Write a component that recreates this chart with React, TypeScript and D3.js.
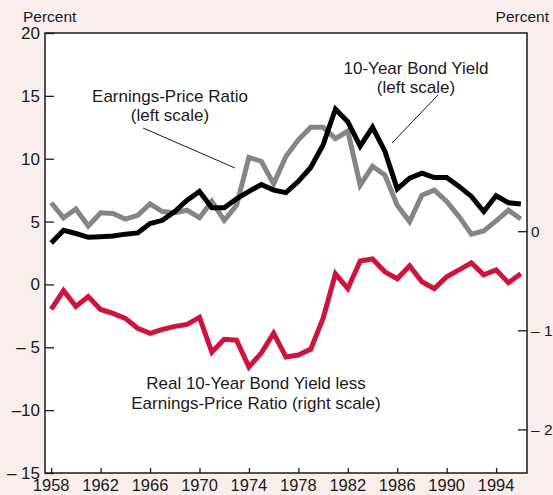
import React, { useEffect, useRef } from "react";
import * as d3 from "d3";

const years = d3.range(1958, 1997);

// left scale, percent
const earningsPrice = [
  6.5, 5.3, 6.0, 4.65, 5.7, 5.65, 5.2, 5.5, 6.4, 5.8, 5.7, 5.9, 5.3, 6.6, 5.1,
  6.3, 10.1, 9.8, 8.0, 10.2, 11.5, 12.5, 12.5, 11.6, 12.2, 7.9, 9.4, 8.7, 6.3,
  5.0, 7.1, 7.5, 6.6, 5.4, 4.0, 4.25, 5.05, 5.9, 5.2,
];
const bondYield = [
  3.3, 4.3, 4.05, 3.75, 3.8, 3.85, 4.0, 4.1, 4.85, 5.1, 5.8, 6.7, 7.4, 6.1, 6.1,
  6.8, 7.4, 7.95, 7.5, 7.3, 8.2, 9.3, 11.1, 13.95, 12.95, 11.0, 12.5, 10.6, 7.6,
  8.45, 8.85, 8.5, 8.5, 7.8, 7.0, 5.8, 7.05, 6.5, 6.4,
];
// right scale
const realSpread = [
  -0.79, -0.6, -0.76, -0.66, -0.79, -0.83, -0.88, -0.98, -1.03, -0.99, -0.96,
  -0.94, -0.87, -1.22, -1.09, -1.1, -1.37, -1.23, -1.03, -1.27, -1.25, -1.19,
  -0.88, -0.43, -0.58, -0.3, -0.28, -0.41, -0.48, -0.35, -0.51, -0.58, -0.46,
  -0.39, -0.32, -0.44, -0.39, -0.52, -0.43,
];

const xTicks = [1958, 1962, 1966, 1970, 1974, 1978, 1982, 1986, 1990, 1994];
const leftTicks = [20, 15, 10, 5, 0, -5, -10, -15];
const leftTickLabels = ["20", "15", "10", "5", "0", "\u2013 5", "\u201310", "\u2013 15"];
const rightTicks = [0, -1, -2];
const rightTickLabels = ["0", "\u2013 1", "\u2013 2"];

const W = 553;
const H = 495;
const m = { left: 45, right: 26, top: 33, bottom: 22 };
const FONT = "'Liberation Sans', Arial, sans-serif";
const INK = "#1a1a1a";

const App = () => {
  const svgRef = useRef<SVGSVGElement>(null);

  useEffect(() => {
    const svg = d3.select(svgRef.current);
    svg.selectAll("*").remove();

    const x = d3.scaleLinear().domain([1957.5, 1996.5]).range([m.left, W - m.right]);
    const yL = d3.scaleLinear().domain([-15, 20]).range([H - m.bottom, m.top]);
    const yR = d3.scaleLinear().domain([-2.44, 2]).range([H - m.bottom, m.top]);

    svg.append("rect").attr("width", W).attr("height", H).attr("fill", "#f9eeec");
    svg
      .append("rect")
      .attr("x", m.left)
      .attr("y", m.top)
      .attr("width", W - m.left - m.right)
      .attr("height", H - m.top - m.bottom)
      .attr("fill", "#fff");

    // left axis, ticks point inward
    const gl = svg.append("g").attr("transform", `translate(${m.left},0)`);
    gl.call(d3.axisRight(yL).tickValues(leftTicks).tickSize(9).tickFormat(() => ""));
    gl.select(".domain").remove();
    gl.selectAll(".tick line").attr("stroke", INK).attr("stroke-width", 1.3);
    svg
      .append("g")
      .selectAll("text")
      .data(leftTicks)
      .join("text")
      .attr("x", 40)
      .attr("y", (d) => yL(d) + 6)
      .attr("text-anchor", "end")
      .attr("font-family", FONT)
      .attr("font-size", 17)
      .attr("fill", INK)
      .text((d, i) => leftTickLabels[i]);

    // right axis
    const gr = svg.append("g").attr("transform", `translate(${W - m.right},0)`);
    gr.call(d3.axisLeft(yR).tickValues(rightTicks).tickSize(9).tickFormat(() => ""));
    gr.select(".domain").remove();
    gr.selectAll(".tick line").attr("stroke", INK).attr("stroke-width", 1.3);
    svg
      .append("g")
      .selectAll("text")
      .data(rightTicks)
      .join("text")
      .attr("x", 531)
      .attr("y", (d) => yR(d) + 6)
      .attr("font-family", FONT)
      .attr("font-size", 15.5)
      .attr("fill", INK)
      .text((d, i) => rightTickLabels[i]);

    // bottom axis
    const gb = svg.append("g").attr("transform", `translate(0,${H - m.bottom})`);
    gb.call(d3.axisTop(x).tickValues(xTicks).tickSize(5).tickFormat(() => ""));
    gb.select(".domain").remove();
    gb.selectAll(".tick line").attr("stroke", INK).attr("stroke-width", 1.3);
    svg
      .append("g")
      .selectAll("text")
      .data(xTicks)
      .join("text")
      .attr("x", (d) => x(d))
      .attr("y", H - 4)
      .attr("text-anchor", "middle")
      .attr("font-family", FONT)
      .attr("font-size", 16.5)
      .attr("fill", INK)
      .text((d) => String(d));

    // lines
    const lineL = d3
      .line<number>()
      .x((d, i) => x(years[i]))
      .y((d) => yL(d));
    const lineR = d3
      .line<number>()
      .x((d, i) => x(years[i]))
      .y((d) => yR(d));

    const series: [number[], any, string][] = [
      [earningsPrice, lineL, "#858585"],
      [bondYield, lineL, "#000"],
      [realSpread, lineR, "#d0123f"],
    ];
    series.forEach(([data, gen, color]) => {
      svg
        .append("path")
        .datum(data)
        .attr("d", gen)
        .attr("fill", "none")
        .attr("stroke", color)
        .attr("stroke-width", 5)
        .attr("stroke-linejoin", "miter");
    });

    // frame
    svg
      .append("rect")
      .attr("x", m.left)
      .attr("y", m.top)
      .attr("width", W - m.left - m.right)
      .attr("height", H - m.top - m.bottom)
      .attr("fill", "none")
      .attr("stroke", INK)
      .attr("stroke-width", 1.5);

    // annotations
    const label = (lines: string[], cx: number, y0: number, gap: number) => {
      lines.forEach((t, i) => {
        svg
          .append("text")
          .attr("x", cx)
          .attr("y", y0 + i * gap)
          .attr("text-anchor", "middle")
          .attr("font-family", FONT)
          .attr("font-size", 17)
          .attr("fill", INK)
          .text(t);
      });
    };
    label(["Earnings-Price Ratio", "(left scale)"], 170, 102, 19);
    label(["10-Year Bond Yield", "(left scale)"], 416, 74, 19);
    label(["Real 10-Year Bond Yield less", "Earnings-Price Ratio (right scale)"], 256, 389, 19.5);

    const leader = (x1: number, y1: number, x2: number, y2: number) =>
      svg
        .append("line")
        .attr("x1", x1)
        .attr("y1", y1)
        .attr("x2", x2)
        .attr("y2", y2)
        .attr("stroke", INK)
        .attr("stroke-width", 1);
    leader(143, 128, 235, 168);
    leader(438, 95, 392, 143);

    svg
      .append("text")
      .attr("x", 23)
      .attr("y", 22)
      .attr("font-family", FONT)
      .attr("font-size", 15.5)
      .attr("fill", INK)
      .text("Percent");
    svg
      .append("text")
      .attr("x", 549)
      .attr("y", 22)
      .attr("text-anchor", "end")
      .attr("font-family", FONT)
      .attr("font-size", 15.5)
      .attr("fill", INK)
      .text("Percent");
  }, []);

  return (
    <svg
      ref={svgRef}
      width={W}
      height={H}
      style={{ position: "absolute", left: 0, top: 0, display: "block" }}
    />
  );
};

export default App;
